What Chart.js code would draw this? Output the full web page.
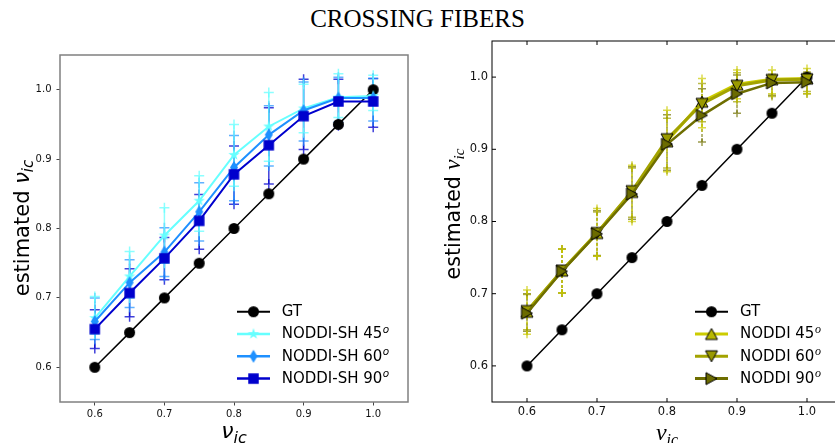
<!DOCTYPE html>
<html>
<head>
<meta charset="utf-8">
<script src="https://cdn.jsdelivr.net/npm/chart.js@4.4.0/dist/chart.umd.min.js"></script>
<style>
    html, body { margin: 0; padding: 0; background: #fff; }
    body { width: 835px; height: 443px; position: relative; overflow: hidden; }
    #title { position: absolute; left: 0; top: 6px; width: 835px; text-align: center; font: 25px/25px 'Liberation Serif', 'DejaVu Serif', serif; color: #000; }
    #left { position: absolute; left: 0; top: 0; }
    #right { position: absolute; left: 420px; top: 0; }
</style>
</head>
<body>
<div id="title">CROSSING FIBERS</div>
<canvas id="left" width="420" height="443"></canvas>
<canvas id="right" width="430" height="443"></canvas>
<script>
// x positions (true nu_ic) and tick labels
const xVals = [0.6, 0.65, 0.7, 0.75, 0.8, 0.85, 0.9, 0.95, 1.0];
const tickVals = [0.6, 0.7, 0.8, 0.9, 1.0];
const gtVals = [0.6, 0.65, 0.7, 0.75, 0.8, 0.85, 0.9, 0.95, 1.0];

// left panel: NODDI-SH
const sh45 = [0.671, 0.731, 0.790, 0.840, 0.906, 0.947, 0.973, 0.989, 0.991];
const sh60 = [0.666, 0.722, 0.766, 0.824, 0.888, 0.935, 0.970, 0.988, 0.988];
const sh90 = [0.655, 0.707, 0.757, 0.811, 0.878, 0.920, 0.962, 0.983, 0.983];
const sh45Hi = [0.702, 0.767, 0.830, 0.876, 0.950, 0.996, 1.008, 1.023, 1.021];
const sh45Lo = [0.648, 0.700, 0.750, 0.796, 0.861, 0.897, 0.938, 0.960, 0.970];
const sh60Hi = [0.700, 0.755, 0.801, 0.866, 0.934, 0.977, 1.011, 1.018, 1.016];
const sh60Lo = [0.640, 0.686, 0.731, 0.782, 0.840, 0.890, 0.926, 0.953, 0.955];
const sh90Hi = [0.683, 0.742, 0.787, 0.849, 0.919, 0.974, 1.015, 1.015, 1.016];
const sh90Lo = [0.627, 0.673, 0.726, 0.770, 0.835, 0.864, 0.914, 0.948, 0.946];

// right panel: NODDI
const n45 = [0.675, 0.732, 0.784, 0.841, 0.911, 0.966, 0.990, 0.997, 0.998];
const n60 = [0.676, 0.732, 0.784, 0.842, 0.914, 0.963, 0.988, 0.996, 0.997];
const n90 = [0.673, 0.731, 0.783, 0.838, 0.907, 0.947, 0.977, 0.992, 0.993];
const n45Hi = [0.705, 0.762, 0.818, 0.878, 0.954, 0.998, 1.010, 1.010, 1.012];
const n45Lo = [0.644, 0.701, 0.752, 0.800, 0.869, 0.930, 0.970, 0.977, 0.977];
const n60Hi = [0.699, 0.762, 0.813, 0.874, 0.943, 0.991, 1.006, 1.004, 1.007];
const n60Lo = [0.650, 0.701, 0.752, 0.806, 0.874, 0.938, 0.966, 0.973, 0.980];
const n90Hi = [0.700, 0.762, 0.815, 0.876, 0.948, 0.984, 1.003, 1.000, 1.005];
const n90Lo = [0.648, 0.701, 0.753, 0.803, 0.871, 0.910, 0.950, 0.975, 0.977];

const pts = ys => ys.map((y, i) => ({ x: xVals[i], y }));
const bars = (lo, hi) => xVals.flatMap((x, i) => [{ x, y: lo[i] }, { x, y: hi[i] }, { x, y: null }]);

// small canvases used as point styles (matplotlib-like markers)
const marker = (shape, w, h, fill, edge, lw) => {
    const c = document.createElement('canvas');
    c.width = Math.ceil(w) + 4;
    c.height = Math.ceil(h) + 4;
    const g = c.getContext('2d');
    const cx = c.width / 2, cy = c.height / 2, rx = w / 2, ry = h / 2;
    g.beginPath();
    if (shape === 'circle') {
        g.ellipse(cx, cy, rx, ry, 0, 0, Math.PI * 2);
    } else if (shape === 'square') {
        g.rect(cx - rx, cy - ry, w, h);
    } else if (shape === 'diamond') {
        g.moveTo(cx, cy - ry); g.lineTo(cx + rx, cy); g.lineTo(cx, cy + ry); g.lineTo(cx - rx, cy);
        g.closePath();
    } else if (shape === 'star') {
        for (let k = 0; k < 10; k++) {
            const a = -Math.PI / 2 + k * Math.PI / 5;
            const r = k % 2 ? 0.382 : 1;
            const px = cx + Math.cos(a) * rx * r, py = cy + Math.sin(a) * ry * r;
            k ? g.lineTo(px, py) : g.moveTo(px, py);
        }
        g.closePath();
    } else if (shape === 'up') {
        g.moveTo(cx, cy - ry); g.lineTo(cx + rx, cy + ry); g.lineTo(cx - rx, cy + ry); g.closePath();
    } else if (shape === 'down') {
        g.moveTo(cx, cy + ry); g.lineTo(cx + rx, cy - ry); g.lineTo(cx - rx, cy - ry); g.closePath();
    } else if (shape === 'right') {
        g.moveTo(cx + rx, cy); g.lineTo(cx - rx, cy - ry); g.lineTo(cx - rx, cy + ry); g.closePath();
    }
    g.fillStyle = fill;
    g.fill();
    if (edge) { g.strokeStyle = edge; g.lineWidth = lw; g.stroke(); }
    return c;
};

const mk = {
    gtL: marker('circle', 11, 11, '#000'),
    star: marker('star', 12, 12, '#66ffff'),
    dia: marker('diamond', 8, 13, '#1e90ff'),
    sq: marker('square', 10.5, 10.5, '#0000cd'),
    gtR: marker('circle', 11, 11, '#000'),
    up: marker('up', 12, 11, '#b8b800', '#000', 1),
    down: marker('down', 12, 11, '#9a9a00', '#000', 1),
    rt: marker('right', 11, 12, '#6b6b00', '#000', 1)
};

const series = (label, data, color, lw, style, order) => ({
    label, data: pts(data), borderColor: color, backgroundColor: color, borderWidth: lw,
    pointStyle: style, pointRadius: 5, pointHoverRadius: 5, order
});
const errSeries = (lo, hi, color, r, dash, order) => ({
    data: bars(lo, hi), borderColor: color, borderWidth: 1.5, borderDash: dash,
    pointStyle: 'cross', pointRadius: r, pointBorderColor: color, pointBorderWidth: 1.5, order
});

const runs = (ctx, parts, x, y, rot) => {
    ctx.save();
    ctx.translate(x, y);
    ctx.rotate(rot);
    ctx.textBaseline = 'alphabetic';
    let total = 0;
    parts.forEach(p => { ctx.font = p.font; p.w = ctx.measureText(p.text).width; total += p.w; });
    let cx = -total / 2;
    parts.forEach(p => { ctx.font = p.font; ctx.fillStyle = '#000'; ctx.fillText(p.text, cx, p.dy || 0); cx += p.w; });
    ctx.restore();
};

const legendPlugin = (items, sansSup) => ({
    id: 'legendBox',
    afterDraw(chart) {
        const { ctx, chartArea: a } = chart;
        const off = items.offsets;
        items.rows.forEach((it, k) => {
            const y = a.bottom - 90.3 + k * 22.3;
            ctx.save();
            ctx.strokeStyle = it.color;
            ctx.lineWidth = it.lw;
            ctx.beginPath();
            ctx.moveTo(a.right - off[0], y);
            ctx.lineTo(a.right - off[1], y);
            ctx.stroke();
            Chart.helpers.drawPoint(ctx, { pointStyle: it.marker, radius: 5, rotation: 0, borderWidth: 0 }, a.right - (off[0] + off[1]) / 2, y);
            ctx.fillStyle = '#000';
            ctx.textBaseline = 'middle';
            ctx.font = "15px 'DejaVu Sans'";
            ctx.fillText(it.label, a.right - off[2], y + 0.5);
            if (it.sup) {
                const w = ctx.measureText(it.label).width;
                ctx.textBaseline = 'alphabetic';
                ctx.font = sansSup ? "italic 10.5px 'DejaVu Sans'" : "italic 12px 'Liberation Serif'";
                ctx.fillText(it.sup, a.right - off[2] + w + 0.5, y - 1.5);
            }
            ctx.restore();
        });
    }
});

const baseScales = (fontSize, xPad, yPad, yWidth, gridOpts) => ({
    x: {
        type: 'linear', min: 0.55, max: 1.05,
        afterBuildTicks: s => { s.ticks = tickVals.map(v => ({ value: v })); },
        afterFit: s => { s.height = 41; },
        ticks: { callback: v => v.toFixed(1), font: { family: 'DejaVu Sans', size: fontSize }, color: '#111', padding: xPad, maxRotation: 0, autoSkip: false },
        grid: gridOpts, border: { display: false }
    },
    y: {
        type: 'linear', min: 0.55, max: 1.05,
        afterBuildTicks: s => { s.ticks = tickVals.map(v => ({ value: v })); },
        afterFit: s => { s.width = yWidth; },
        ticks: { callback: v => v.toFixed(1), font: { family: 'DejaVu Sans', size: fontSize }, color: '#111', padding: yPad, autoSkip: false },
        grid: gridOpts, border: { display: false }
    }
});

// left panel
new Chart(document.getElementById('left'), {
    type: 'line',
    data: {
        datasets: [
            series('NODDI-SH 90', sh90, '#0000cd', 2, mk.sq, 0),
            series('NODDI-SH 60', sh60, '#1e90ff', 2, mk.dia, 1),
            series('NODDI-SH 45', sh45, '#66ffff', 2, mk.star, 2),
            series('GT', gtVals, '#000', 1.5, mk.gtL, 3),
            errSeries(sh45Lo, sh45Hi, 'rgba(102,255,255,0.75)', 5, [], 4),
            errSeries(sh60Lo, sh60Hi, 'rgba(30,144,255,0.7)', 5, [], 5),
            errSeries(sh90Lo, sh90Hi, 'rgba(0,0,205,0.75)', 5, [], 6)
        ]
    },
    options: {
        responsive: false, animation: false, events: [],
        layout: { padding: { top: 55, right: 12, left: 0, bottom: 0 } },
        plugins: { legend: { display: false }, tooltip: { enabled: false } },
        scales: baseScales(10, 3, 5, 60, { drawOnChartArea: false, drawTicks: true, tickLength: 3.5, color: '#444', lineWidth: 1 })
    },
    plugins: [
        {
            id: 'frame',
            afterDraw(chart) {
                const { ctx, chartArea: a } = chart;
                ctx.save();
                ctx.strokeStyle = '#808080';
                ctx.lineWidth = 1.5;
                ctx.strokeRect(a.left, a.top, a.right - a.left, a.bottom - a.top);
                runs(ctx, [
                    { text: 'estimated ', font: "21px 'DejaVu Sans'" },
                    { text: 'ν', font: "italic 21px 'DejaVu Sans'" },
                    { text: 'ic', font: "italic 15px 'DejaVu Sans'", dy: 4 }
                ], 29, 228, -Math.PI / 2);
                runs(ctx, [
                    { text: 'ν', font: "italic 22px 'DejaVu Sans'" },
                    { text: 'ic', font: "italic 16px 'DejaVu Sans'", dy: 4.5 }
                ], 234, 438, 0);
                ctx.restore();
            }
        },
        legendPlugin({
            offsets: [171, 138, 126.3],
            rows: [
                { label: 'GT', color: '#000', lw: 2, marker: mk.gtL },
                { label: 'NODDI-SH 45', sup: 'o', color: '#66ffff', lw: 2.5, marker: mk.star },
                { label: 'NODDI-SH 60', sup: 'o', color: '#1e90ff', lw: 2.5, marker: mk.dia },
                { label: 'NODDI-SH 90', sup: 'o', color: '#0000cd', lw: 2.5, marker: mk.sq }
            ]
        }, true)
    ]
});

// right panel
new Chart(document.getElementById('right'), {
    type: 'line',
    data: {
        datasets: [
            series('NODDI 90', n90, '#6e6e00', 2.5, mk.rt, 0),
            series('NODDI 60', n60, '#a3a300', 3, mk.down, 1),
            series('NODDI 45', n45, '#cccc00', 3, mk.up, 2),
            series('GT', gtVals, '#000', 1.5, mk.gtR, 3),
            errSeries(n45Lo, n45Hi, 'rgba(204,204,0,0.7)', 4, [3, 2], 4),
            errSeries(n60Lo, n60Hi, 'rgba(160,160,0,0.7)', 4, [3, 2], 5),
            errSeries(n90Lo, n90Hi, 'rgba(112,112,0,0.7)', 4, [3, 2], 6)
        ]
    },
    options: {
        responsive: false, animation: false, events: [],
        layout: { padding: { top: 41, right: 8, left: 0, bottom: 0 } },
        plugins: { legend: { display: false }, tooltip: { enabled: false } },
        scales: baseScales(11.5, 3, 4, 72, { drawOnChartArea: false, drawTicks: false })
    },
    plugins: [
        {
            id: 'frame',
            afterDraw(chart) {
                const { ctx, chartArea: a, scales } = chart;
                ctx.save();
                ctx.strokeStyle = '#000';
                ctx.lineWidth = 1;
                ctx.strokeRect(a.left, a.top, a.right - a.left, a.bottom - a.top);
                ctx.beginPath();
                tickVals.forEach(v => {
                    const x = scales.x.getPixelForValue(v);
                    const y = scales.y.getPixelForValue(v);
                    ctx.moveTo(x, a.bottom); ctx.lineTo(x, a.bottom - 4);
                    ctx.moveTo(x, a.top); ctx.lineTo(x, a.top + 4);
                    ctx.moveTo(a.left, y); ctx.lineTo(a.left + 4, y);
                    ctx.moveTo(a.right, y); ctx.lineTo(a.right - 4, y);
                });
                ctx.stroke();
                runs(ctx, [
                    { text: 'estimated ', font: "20.5px 'DejaVu Sans'" },
                    { text: 'ν', font: "italic 23px 'Liberation Serif'" },
                    { text: 'ic', font: "italic 15px 'Liberation Serif'", dy: 4 }
                ], 40, 214, -Math.PI / 2);
                runs(ctx, [
                    { text: 'ν', font: "italic 24px 'Liberation Serif'" },
                    { text: 'ic', font: "italic 16px 'Liberation Serif'", dy: 5 }
                ], 247, 440, 0);
                ctx.restore();
            }
        },
        legendPlugin({
            offsets: [147, 114, 102],
            rows: [
                { label: 'GT', color: '#000', lw: 2, marker: mk.gtR },
                { label: 'NODDI 45', sup: 'o', color: '#cccc00', lw: 3, marker: mk.up },
                { label: 'NODDI 60', sup: 'o', color: '#a3a300', lw: 3, marker: mk.down },
                { label: 'NODDI 90', sup: 'o', color: '#6e6e00', lw: 3, marker: mk.rt }
            ]
        }, false)
    ]
});
</script>
</body>
</html>
